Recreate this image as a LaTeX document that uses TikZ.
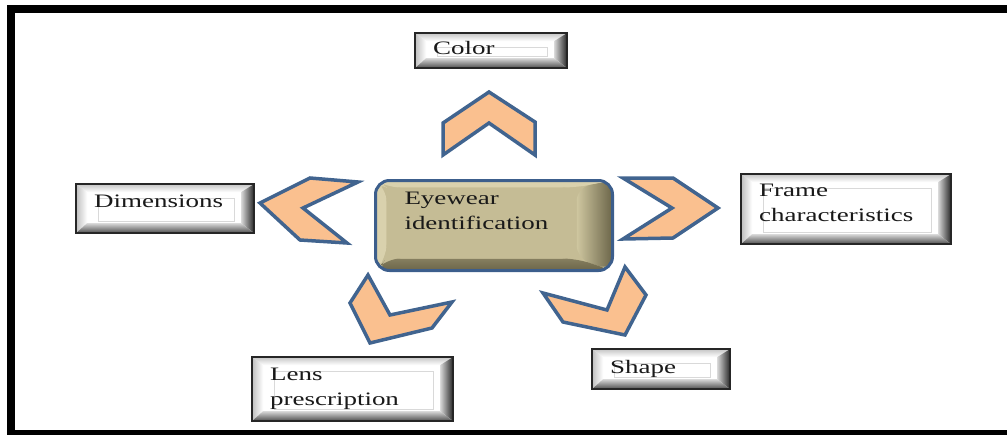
\documentclass[tikz,border=0pt]{standalone}
\usepackage{fontspec}
\usetikzlibrary{calc}
\newfontfamily\tnr[FakeStretch=1.42]{Liberation Serif}
\definecolor{cface}{HTML}{C5BC95}
\definecolor{clight}{HTML}{D9D1AD}
\definecolor{cmid}{HTML}{CFC7A0}
\definecolor{cdark}{HTML}{6B6549}
\definecolor{cborder}{HTML}{3C5E8C}
\definecolor{chevfill}{HTML}{FAC08F}
\definecolor{chevline}{HTML}{41648F}
\tikzset{
 txt/.style={font={\tnr\fontsize{19}{25}\selectfont}, text=black!90},
 btn/.style={txt, draw=black!85, line width=2.2, fill=white, inner xsep=18, inner ysep=0,
  align=left, anchor=north west,
  path picture={
   \coordinate (A) at (path picture bounding box.north west);
   \coordinate (C) at (path picture bounding box.south east);
   \coordinate (B) at (C|-A);
   \coordinate (D) at (A|-C);
   \coordinate (a) at ($(A)+(11,8)$);
   \coordinate (c) at ($(C)+(-13,-10)$);
   \coordinate (b) at (c|-a);
   \coordinate (d) at (a|-c);
   \shade[top color=gray!45, bottom color=white] (A)--(B)--(b)--(a)--cycle;
   \shade[left color=gray!50, right color=white] (A)--(a)--(d)--(D)--cycle;
   \shade[left color=gray!30, right color=black!85] (B)--(C)--(c)--(b)--cycle;
   \shade[top color=gray!30, bottom color=black!70] (D)--(d)--(c)--(C)--cycle;
   \draw[gray!30, line width=1.2] ($(A)+(22,14)$) rectangle ($(C)+(-20,-12)$);
  }},
 cbox/.style={txt, draw=cborder, line width=3, rounded corners=14, fill=cface,
  inner xsep=29, inner ysep=0, align=left, anchor=north west,
  path picture={
   \coordinate (A) at (path picture bounding box.north west);
   \coordinate (C) at (path picture bounding box.south east);
   \coordinate (B) at (C|-A);
   \coordinate (D) at (A|-C);
   \coordinate (a) at ($(A)+(11,7)$);
   \coordinate (c) at ($(C)+(-36,-12)$);
   \coordinate (b) at (c|-a);
   \coordinate (d) at (a|-c);
   \fill[clight] (A)--(B)--(b)--(a)--cycle;
   \fill[clight] (A)--(a)--(d)--(D)--cycle;
   \shade[left color=cmid, middle color=cmid!80!cdark, right color=cdark] (B)--(C)--(c)--(b)--cycle;
   \shade[top color=cdark!70!cface, bottom color=cdark] (D)--(d)--(c)--(C)--cycle;
   \fill[cface] (a) rectangle (c);
  }},
 chev/.style={fill=chevfill, draw=chevline, line width=3.5, line join=miter}
}
\begin{document}
\begin{tikzpicture}[x=1pt,y=-1pt]
\path[use as bounding box] (0,0) rectangle (1007,434);
\begin{scope}
\clip (0,0) rectangle (1007,434);
\draw[line width=8, black] (1020,9) -- (11,9) -- (11,434) -- (1020,434);
\end{scope}

% chevrons
\draw[chev] (489,92) -- (535,122) -- (535,155) -- (489,123) -- (443,155) -- (443,123) -- cycle;
\draw[chev] (623,178) -- (673,178) -- (718,208) -- (673,238) -- (623,239) -- (672,208) -- cycle;
\draw[chev] (260,203) -- (310,178) -- (358,182) -- (303,208) -- (347,243) -- (300,240) -- cycle;
\draw[chev] (368,275) -- (390,315) -- (452,302) -- (432,328) -- (370,343) -- (350,303) -- cycle;
\draw[chev] (543,293) -- (607,310) -- (625,267) -- (646,295) -- (625,335) -- (563,322) -- cycle;

% center box
\node[cbox, minimum width=237, minimum height=90, text width=237-58] (eye) at (374,179)
  {\raisebox{29pt}{\parbox[b]{170pt}{Eyewear\\identification}}};

% buttons
\node[btn, minimum width=152, minimum height=35, text width=152-36] (color) at (414,32) {\raisebox{5pt}{Color}};
\node[btn, minimum width=178, minimum height=49, text width=178-36] (dim) at (75,183) {\raisebox{14pt}{Dimensions}};
\node[btn, minimum width=210, minimum height=70, text width=210-36] (frame) at (740,173) {\raisebox{12pt}{\parbox[b]{170pt}{Frame\\characteristics}}};
\node[btn, minimum width=138, minimum height=40, text width=138-36] (shape) at (591,348) {\raisebox{3pt}{Shape}};
\node[btn, minimum width=201, minimum height=64, text width=201-36] (lens) at (251,356) {\raisebox{2pt}{\parbox[b]{160pt}{Lens\\prescription}}};
\end{tikzpicture}
\end{document}
